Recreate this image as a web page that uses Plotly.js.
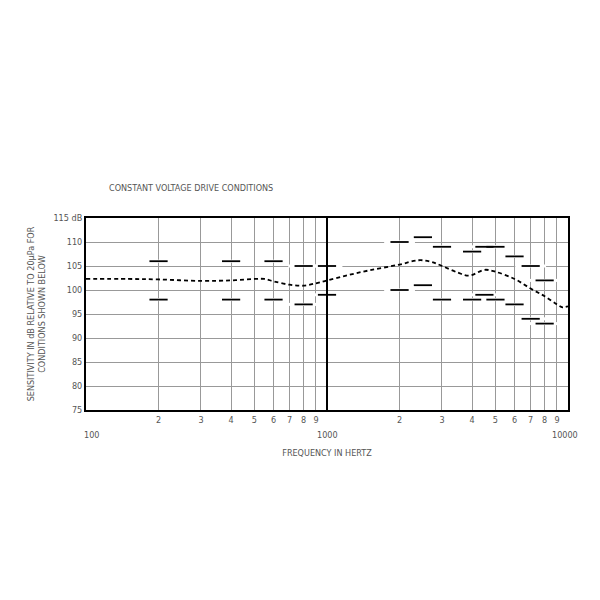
<!DOCTYPE html>
<html>
<head>
<meta charset="utf-8">
<script src="https://cdn.plot.ly/plotly-3.0.1.min.js"></script>
<style>
  body { margin: 0; background: white; }
  #chart { width: 600px; height: 600px; }
</style>
</head>
<body>
<div id="chart"></div>
<script>
// curva de respuesta (dB)
const curveFreq = [100, 150, 200, 300, 400, 500, 550, 600, 700, 800, 900, 1000, 1200, 1500, 2000, 2400, 2700, 3000, 3500, 3900, 4500, 5000, 6000, 7000, 8000, 9000, 9500, 10000];
const curveLevel = [102.3, 102.3, 102.2, 101.9, 102.0, 102.3, 102.3, 101.8, 101.1, 100.9, 101.4, 102.0, 103.0, 104.1, 105.3, 106.2, 105.9, 105.0, 103.6, 103.0, 104.2, 103.8, 102.3, 100.3, 98.7, 97.0, 96.4, 96.6];

// limites de tolerancia
const limitFreq = [200, 400, 600, 800, 1000, 2000, 2500, 3000, 4000, 4500, 5000, 6000, 7000, 8000];
const upperLimit = [106, 106, 106, 105, 105, 110, 111, 109, 108, 109, 109, 107, 105, 102];
const lowerLimit = [98, 98, 98, 97, 99, 100, 101, 98, 98, 99, 98, 97, 94, 93];

// etiquetas de ejes
const xTickVals = [200, 300, 400, 500, 600, 700, 800, 900, 2000, 3000, 4000, 5000, 6000, 7000, 8000, 9000];
const xTickText = ['2', '3', '4', '5', '6', '7', '8', '9', '2', '3', '4', '5', '6', '7', '8', '9'];
const decadeLabels = ['100', '1000', '10000'];
const decadeVals = [100, 1000, 10000];
const yTickVals = [75, 80, 85, 90, 95, 100, 105, 110, 115];
const yTickText = ['75', '80', '85', '90', '95', '100', '105', '110', '115 dB'];

const fnt = 'Liberation Sans Narrow, DejaVu Sans Condensed, sans-serif';
const gris = '#555';

const allFreq = limitFreq.concat(limitFreq);
const allLevel = upperLimit.concat(lowerLimit);

const data = [
  {
    // hueco blanco en la rejilla alrededor de cada marca
    x: allFreq, y: allLevel, mode: 'markers', type: 'scatter', hoverinfo: 'skip',
    marker: { symbol: 'line-ew', size: 22, line: { color: 'white', width: 3 } }
  },
  {
    x: allFreq, y: allLevel, mode: 'markers', type: 'scatter',
    marker: { symbol: 'line-ew', size: 13, line: { color: 'black', width: 1.8 } }
  },
  {
    x: curveFreq, y: curveLevel, mode: 'lines', type: 'scatter',
    line: { color: 'black', width: 1.8, dash: '4px,3px', shape: 'spline', smoothing: 1 }
  }
];

const annotations = decadeVals.map((v, i) => ({
  x: Math.log10(v), y: 0, xref: 'x', yref: 'paper',
  text: decadeLabels[i], showarrow: false, yanchor: 'top', yshift: -18,
  xshift: i === 0 ? 5 : (i === 2 ? -3 : 0),
  font: { family: fnt, size: 9, color: gris }
}));
// titulo superior (posicion en pixeles -> paper)
annotations.push({
  x: (107 - 86) / 482, y: (410 - 188) / 192, xref: 'paper', yref: 'paper', showarrow: false,
  text: 'CONSTANT VOLTAGE DRIVE CONDITIONS', xanchor: 'left', yanchor: 'middle',
  font: { family: fnt, size: 9, color: gris }
});

const layout = {
  width: 600, height: 600,
  margin: { l: 86, r: 32, t: 218, b: 190 },
  paper_bgcolor: 'white', plot_bgcolor: 'white',
  showlegend: false,
  xaxis: {
    type: 'log', range: [2, 4],
    tickvals: xTickVals, ticktext: xTickText, ticks: '',
    showgrid: true, gridcolor: '#999', gridwidth: 1,
    showline: true, mirror: true, linecolor: 'black', linewidth: 2,
    zeroline: false,
    tickfont: { family: fnt, size: 9, color: gris },
    title: { text: 'FREQUENCY IN HERTZ', standoff: 26, font: { family: fnt, size: 9, color: gris } }
  },
  yaxis: {
    range: [75, 115],
    tickvals: yTickVals, ticktext: yTickText, ticks: '',
    showgrid: true, gridcolor: '#999', gridwidth: 1,
    showline: true, mirror: true, linecolor: 'black', linewidth: 2,
    zeroline: false,
    tickfont: { family: fnt, size: 9, color: gris },
    title: { text: 'SENSITIVITY IN dB RELATIVE TO 20µPa FOR<br>CONDITIONS SHOWN BELOW', standoff: 6,
             font: { family: fnt, size: 9, color: gris } }
  },
  shapes: [
    { type: 'line', xref: 'x', yref: 'paper', x0: 1000, x1: 1000, y0: 0, y1: 1,
      line: { color: 'black', width: 2 }, layer: 'above' }
  ],
  annotations: annotations
};

Plotly.newPlot('chart', data, layout, { displayModeBar: false, staticPlot: true });
</script>
</body>
</html>
